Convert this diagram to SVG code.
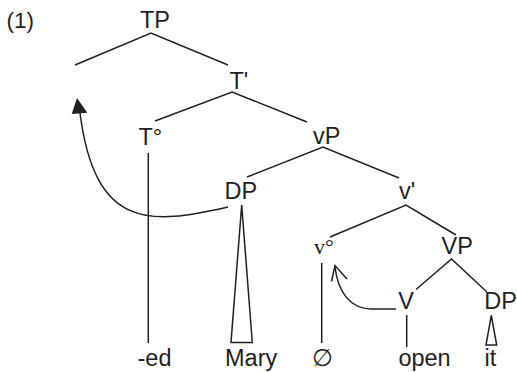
<svg xmlns="http://www.w3.org/2000/svg" width="517" height="372" viewBox="0 0 517 372">
  <style>
    .lbl { font-family: "Liberation Sans", Arial, sans-serif; font-size: 23.5px; fill: #231f20; }
    .serif { font-family: "Liberation Serif", "Times New Roman", serif; font-size: 22px; fill: #231f20; }
    .edge { fill: none; stroke: #231f20; stroke-width: 1.5; }
    .tri { fill: none; stroke: #231f20; stroke-width: 1.5; stroke-linejoin: miter; }
  </style>
  <rect width="517" height="372" fill="#ffffff"/>

  <text class="lbl" x="6.5" y="28" style="font-size:22.5px">(1)</text>

  <!-- tree branches and movement arrows -->
  <g id="connectors">
    <polyline class="edge" points="75,65 151,33 228,65"/>
    <polyline class="edge" points="155,121 232,92 307,122"/>
    <line class="edge" x1="148.3" y1="153" x2="148.3" y2="343"/>
    <polyline class="edge" points="247,177 323,147 399,178"/>
    <polygon class="tri" points="241.7,205 231,342.5 252.3,342.5"/>
    <polyline class="edge" points="330,237 406,205 456,235"/>
    <line class="edge" x1="321.7" y1="263" x2="321.7" y2="343"/>
    <polyline class="edge" points="416,289.5 451.5,259 486.7,291.7"/>
    <line class="edge" x1="406.7" y1="315" x2="406.7" y2="347"/>
    <polygon class="tri" points="491.3,315.5 486,345 496.7,345"/>

    <!-- DP raised to the empty specifier -->
    <path class="edge" d="M228,207 C150,225 95,230 80,113"/>
    <polygon points="77,98 71.7,114 87.3,112.7" fill="#231f20"/>

    <!-- V raised to v -->
    <path class="edge" d="M396,309 L372,309 C350,309 338,292 335,267"/>
    <polyline class="edge" points="331.5,281.5 335,265.5 347,279"/>
  </g>

  <g id="TP"><text class="lbl" x="140" y="28.3">TP</text></g>
  <g id="Tbar"><text class="lbl" x="229.5" y="89">T'</text></g>
  <g id="T0"><text class="lbl" x="138.5" y="145">T°</text></g>
  <g id="vP"><text class="lbl" x="313" y="144">vP</text></g>
  <g id="DP-subject"><text class="lbl" x="224.5" y="199.3">DP</text></g>
  <g id="vbar"><text class="lbl" x="399" y="199">v'</text></g>
  <g id="v0"><text class="serif" x="314" y="253.5">v°</text></g>
  <g id="VP"><text class="lbl" x="441.5" y="254">VP</text></g>
  <g id="V"><text class="lbl" x="398.3" y="309.3">V</text></g>
  <g id="DP-object"><text class="lbl" x="484.3" y="309.3">DP</text></g>

  <g id="ed"><text class="lbl" x="137.5" y="366">-ed</text></g>
  <g id="Mary"><text class="lbl" x="225" y="366">Mary</text></g>
  <g id="null"><text class="lbl" x="322" y="366" text-anchor="middle" style="font-family:'DejaVu Sans','Liberation Sans',sans-serif;font-weight:200">∅</text></g>
  <g id="open"><text class="lbl" x="398.4" y="366">open</text></g>
  <g id="it"><text class="lbl" x="484.5" y="366">it</text></g>
</svg>
